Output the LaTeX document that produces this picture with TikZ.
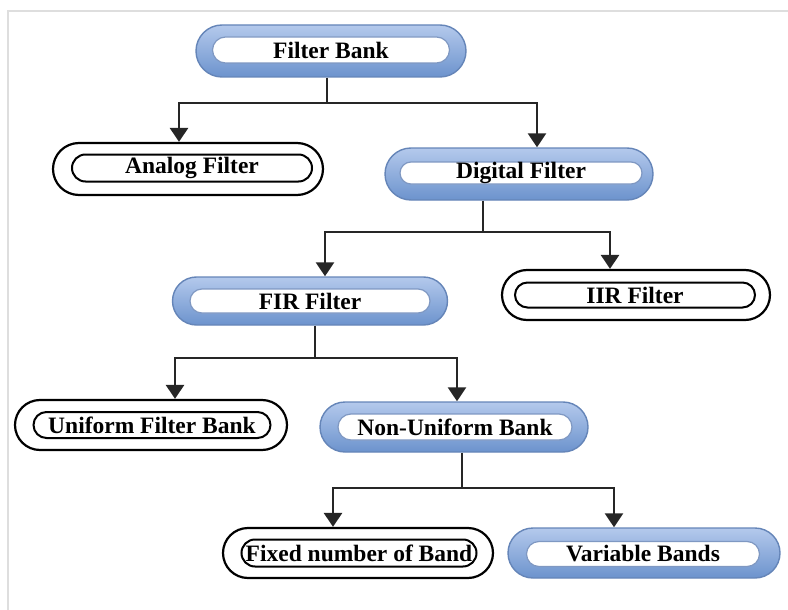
\documentclass[tikz,border=0pt]{standalone}
\usepackage{fontspec}
\setmainfont{Liberation Serif}
\usetikzlibrary{shapes.misc,arrows.meta}

\definecolor{pillTop}{HTML}{B4C9EC}
\definecolor{pillBot}{HTML}{6C93CD}
\definecolor{pillEdge}{HTML}{6585B8}
\definecolor{innerEdge}{HTML}{7F98C2}
\definecolor{wire}{HTML}{262626}
\definecolor{frameGray}{HTML}{DEDEDE}

\tikzset{
  label font/.style={font=\fontsize{23.5}{25}\selectfont\bfseries},
  bluepill/.style={rounded rectangle, draw=pillEdge, line width=1.4pt,
    top color=pillTop, bottom color=pillBot, inner sep=0pt},
  blueinner/.style={rounded rectangle, draw=innerEdge, line width=1.2pt,
    fill=white, inner sep=0pt, label font},
  blackpill/.style={rounded rectangle, draw=black, line width=2.2pt,
    fill=white, inner sep=0pt},
  blackinner/.style={rounded rectangle, draw=black, line width=2pt,
    fill=white, inner sep=0pt, label font},
  trunk/.style={draw=wire, line width=2.5pt},
  arr/.style={draw=wire, line width=2.5pt, -{Triangle[length=14pt,width=18pt]}},
}

\begin{document}
\begin{tikzpicture}[x=1pt,y=-1pt]
\useasboundingbox (0,0) rectangle (788,610);

% page frame
\draw[frameGray, line width=2pt] (8,611) -- (8,11) -- (789,11);

% nodes: outer pill plus inner pill holding the label
\node[bluepill, minimum width=270, minimum height=52] (fb) at (331,51) {};
\node[blueinner, minimum width=237, minimum height=26] (fbIn) at (331,50) {Filter Bank};

\node[blackpill, minimum width=270, minimum height=52] (af) at (188,169) {};
\node[blackinner, minimum width=240, minimum height=27] (afIn) at (192,168) {Analog Filter};

\node[bluepill, minimum width=268, minimum height=52] (df) at (519,174) {};
\node[blueinner, minimum width=242, minimum height=22] (dfIn) at (521,173) {Digital Filter};

\node[bluepill, minimum width=275, minimum height=48] (fir) at (310,301) {};
\node[blueinner, minimum width=240, minimum height=24] (firIn) at (310,301) {FIR Filter};

\node[blackpill, minimum width=268, minimum height=50] (iir) at (636,295) {};
\node[blackinner, minimum width=240, minimum height=25] (iirIn) at (635,295) {IIR Filter};

\node[blackpill, minimum width=272, minimum height=50] (ufb) at (151,425) {};
\node[blackinner, minimum width=237, minimum height=26] (ufbIn) at (152,425) {Uniform Filter Bank};

\node[bluepill, minimum width=268, minimum height=50] (nub) at (454,427) {};
\node[blueinner, minimum width=234, minimum height=26] (nubIn) at (455,427) {Non-Uniform Bank};

\node[blackpill, minimum width=270, minimum height=50] (fnb) at (358,553) {};
\node[blackinner, minimum width=235, minimum height=27] (fnbIn) at (359,553) {Fixed number of Band};

\node[bluepill, minimum width=272, minimum height=50] (vb) at (644,553) {};
\node[blueinner, minimum width=233, minimum height=25] (vbIn) at (643,554) {Variable Bands};

% Filter Bank branches
\coordinate (b1) at (327,103);
\coordinate (b1l) at (179,103);
\coordinate (b1r) at (537,103);
\draw[trunk] (fb.south -| b1) -- (b1);
\draw[trunk, line cap=rect] (b1l) -- (b1r);
\draw[arr] (b1l) -- (b1l |- af.north);
\draw[arr] (b1r) -- (b1r |- df.north);

% Digital Filter branches
\coordinate (b2) at (483,232);
\coordinate (b2l) at (325,232);
\coordinate (b2r) at (610,232);
\draw[trunk] (df.south -| b2) -- (b2);
\draw[trunk, line cap=rect] (b2l) -- (b2r);
\draw[arr] (b2l) -- (b2l |- fir.north);
\draw[arr] (b2r) -- (b2r |- iir.north);

% FIR Filter branches
\coordinate (b3) at (315,358);
\coordinate (b3l) at (175,358);
\coordinate (b3r) at (457,358);
\draw[trunk] (fir.south -| b3) -- (b3);
\draw[trunk, line cap=rect] (b3l) -- (b3r);
\draw[arr] (b3l) -- (b3l |- ufb.north);
\draw[arr] (b3r) -- (b3r |- nub.north);

% Non-Uniform Bank branches
\coordinate (b4) at (462,488);
\coordinate (b4l) at (333,488);
\coordinate (b4r) at (614,488);
\draw[trunk] (nub.south -| b4) -- (b4);
\draw[trunk, line cap=rect] (b4l) -- (b4r);
\draw[arr] (b4l) -- (b4l |- fnb.north);
\draw[arr] (b4r) -- (b4r |- vb.north);
\end{tikzpicture}
\end{document}
